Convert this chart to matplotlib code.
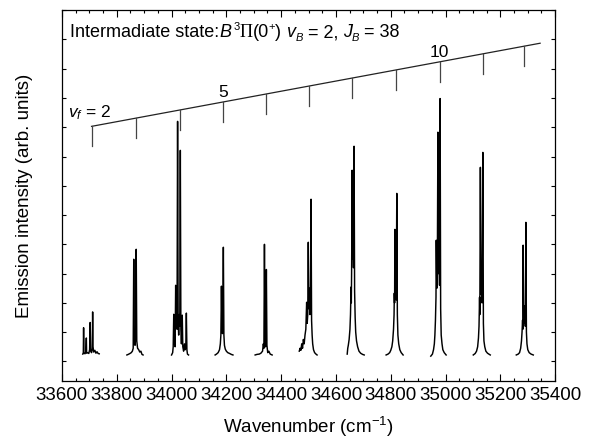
import numpy as np
import matplotlib
matplotlib.use('Agg')
import matplotlib.pyplot as plt
from matplotlib.ticker import MultipleLocator

plt.rcParams['font.family'] = 'Liberation Sans'
plt.rcParams['mathtext.fontset'] = 'custom'
plt.rcParams['mathtext.rm'] = 'Liberation Sans'
plt.rcParams['mathtext.it'] = 'Liberation Sans:italic'

# emission bands, one trace per final vibrational level
band_wn = [
    [33676, 33678, 33679, 33680, 33684, 33687, 33689, 33690, 33694, 33698, 33701, 33703,
     33705, 33708, 33711, 33712, 33713, 33716, 33720, 33724, 33728, 33732, 33736],
    [33837, 33842, 33848, 33853, 33857, 33860, 33862, 33864, 33867, 33869, 33871, 33873,
     33876, 33880, 33884, 33888, 33892, 33896],
    [34000, 34004, 34006, 34008, 34010, 34012, 34013, 34015, 34017, 34019, 34020, 34022,
     34024, 34026, 34028, 34030, 34032, 34034, 34036, 34039, 34041, 34044, 34047, 34050,
     34052, 34054, 34056, 34058, 34062],
    [34159, 34164, 34170, 34175, 34178, 34180, 34182, 34184, 34186, 34187, 34189, 34191,
     34193, 34196, 34200, 34205, 34212, 34218, 34224],
    [34305, 34312, 34320, 34326, 34332, 34335, 34337, 34339, 34341, 34343, 34344, 34346,
     34348, 34351, 34355, 34360, 34367],
    [34466, 34469, 34472, 34475, 34478, 34481, 34484, 34487, 34490, 34493, 34495, 34497,
     34499, 34501, 34503, 34505, 34507, 34509, 34511, 34513, 34515, 34518, 34522, 34527, 34531],
    [34641, 34643, 34645, 34648, 34651, 34653, 34655, 34656, 34657, 34658, 34659, 34661,
     34663, 34664, 34666, 34668, 34670, 34672, 34675, 34679, 34684, 34690, 34697, 34703],
    [34783, 34790, 34796, 34800, 34804, 34807, 34810, 34812, 34813, 34814, 34815, 34817,
     34819, 34820, 34822, 34824, 34826, 34829, 34833, 34838, 34845],
    [34946, 34952, 34956, 34959, 34961, 34963, 34965, 34966, 34968, 34970, 34972, 34974,
     34976, 34978, 34980, 34982, 34984, 34987, 34990, 34995, 35002],
    [35101, 35108, 35113, 35117, 35120, 35122, 35124, 35125, 35127, 35129, 35131, 35133,
     35136, 35138, 35140, 35143, 35147, 35153, 35163],
    [35258, 35265, 35270, 35274, 35277, 35279, 35281, 35282, 35283, 35285, 35287, 35289,
     35291, 35293, 35295, 35297, 35300, 35305, 35312, 35320],
]
band_int = [
    [0.25, 0.30, 1.15, 0.30, 0.26, 0.32, 0.80, 0.28, 0.30, 0.27, 0.40, 1.33,
     0.35, 0.30, 0.45, 1.69, 0.50, 0.32, 0.38, 0.28, 0.33, 0.27, 0.26],
    [0.22, 0.24, 0.27, 0.30, 0.35, 0.45, 3.49, 0.60, 0.55, 0.90, 3.83, 0.70,
     0.45, 0.40, 0.32, 0.35, 0.24, 0.22],
    [0.22, 0.30, 0.50, 1.61, 0.60, 0.90, 0.50, 2.60, 1.20, 1.50, 1.10, 8.20,
     1.40, 0.90, 1.60, 1.20, 7.21, 1.10, 0.60, 1.58, 0.50, 0.35, 0.60, 0.40,
     0.50, 1.65, 0.40, 0.25, 0.22],
    [0.22, 0.25, 0.30, 0.40, 0.60, 0.90, 2.57, 1.10, 0.95, 1.30, 3.90, 0.90,
     0.55, 0.42, 0.35, 0.30, 0.27, 0.24, 0.22],
    [0.22, 0.24, 0.25, 0.28, 0.35, 0.60, 0.45, 4.00, 0.70, 0.50, 0.90, 3.14,
     0.55, 0.30, 0.35, 0.25, 0.22],
    [0.35, 0.45, 0.38, 0.60, 0.45, 0.75, 0.60, 0.90, 1.10, 2.02, 1.30, 1.60,
     4.07, 1.80, 2.50, 1.60, 2.20, 5.54, 1.40, 0.90, 0.60, 0.40, 0.30, 0.25, 0.22],
    [0.25, 0.45, 0.55, 0.75, 1.10, 1.60, 2.54, 2.00, 3.00, 4.45, 6.53, 3.50,
     4.20, 3.20, 7.35, 2.40, 1.50, 1.00, 0.70, 0.50, 0.35, 0.28, 0.24, 0.22],
    [0.22, 0.25, 0.30, 0.38, 0.50, 0.70, 1.10, 1.60, 2.33, 2.00, 4.51, 2.20,
     2.80, 2.10, 5.74, 1.60, 0.90, 0.60, 0.40, 0.30, 0.22],
    [0.18, 0.25, 0.40, 0.60, 0.90, 1.40, 2.20, 4.14, 2.50, 3.40, 7.83, 3.00,
     4.00, 2.60, 8.98, 1.80, 0.90, 0.60, 0.40, 0.30, 0.22],
    [0.22, 0.27, 0.35, 0.50, 0.80, 1.20, 2.19, 1.60, 6.63, 2.30, 3.00, 2.00,
     7.14, 1.30, 0.70, 0.50, 0.35, 0.28, 0.22],
    [0.22, 0.25, 0.30, 0.45, 0.70, 1.00, 1.41, 1.10, 3.97, 1.30, 1.50, 1.90,
     1.20, 4.75, 1.00, 0.60, 0.40, 0.30, 0.25, 0.22],
]

# assignment comb for v_f = 2 ... 12
comb_v = list(range(2, 13))
comb_wn = [33708, 33870, 34031, 34189, 34345, 34502, 34660, 34818, 34978, 35136, 35288]
comb_end_wn = 35345
comb_top = (8.03, 10.87)  # height of the comb line at its two ends
tick_len = 0.68

# title pieces: text, style, size, vertical shift (pt), family
title_parts = [
    ('Intermadiate state:', 'normal', 13, 0, 'Liberation Sans'),
    ('B', 'italic', 13, 0, 'Liberation Sans'),
    (' ', 'normal', 6, 0, 'Liberation Sans'),
    ('3', 'normal', 8, 5.5, 'Liberation Sans'),
    ('\u03a0', 'normal', 13, 0, 'Liberation Serif'),
    ('(0', 'normal', 13, 0, 'Liberation Sans'),
    ('+', 'normal', 8, 5.5, 'Liberation Sans'),
    (') ', 'normal', 13, 0, 'Liberation Sans'),
    ('v', 'italic', 13, 0, 'Liberation Sans'),
    ('B', 'italic', 8, -3, 'Liberation Sans'),
    (' = 2, ', 'normal', 13, 0, 'Liberation Sans'),
    ('J', 'italic', 13, 0, 'Liberation Sans'),
    ('B', 'italic', 8, -3, 'Liberation Sans'),
    (' = 38', 'normal', 13, 0, 'Liberation Sans'),
]

fig, ax = plt.subplots(figsize=(5.9, 4.41), dpi=100)
fig.subplots_adjust(left=0.105, right=0.941, top=0.977, bottom=0.136)

for wn, inten in zip(band_wn, band_int):
    ax.plot(wn, inten, color='black', lw=1.05)

# comb line with ticks at each band
slope = (comb_top[1] - comb_top[0]) / (comb_end_wn - comb_wn[0])
ax.plot([comb_wn[0], comb_end_wn], comb_top, color='#222222', lw=0.9)
for v, w in zip(comb_v, comb_wn):
    top = comb_top[0] + slope * (w - comb_wn[0])
    ax.plot([w, w], [top, top - tick_len], color='#444444', lw=0.9)
    if v == 5 or v == 10:
        ax.text(w, top + 0.08, str(v), ha='center', va='bottom', fontsize=12.5)
ax.text(33699, 8.35, r'$v_f$ = 2', ha='center', va='baseline', fontsize=12.5)

# chain the title pieces along one baseline
base_y = 0.927
t = None
for s, style, size, dy, fam in title_parts:
    if t is None:
        t = ax.text(0.016, base_y, s, transform=ax.transAxes, ha='left', va='baseline',
                    fontsize=size, style=style, family=fam)
    else:
        t = ax.annotate(s, xy=(1, base_y), xycoords=(t, ax.transAxes),
                        xytext=(0, dy), textcoords='offset points',
                        ha='left', va='baseline', fontsize=size, style=style, family=fam)
        # keep following pieces on the main baseline
        if dy != 0:
            t = ax.annotate('', xy=(1, base_y), xycoords=(t, ax.transAxes))

ax.set_xlim(33600, 35400)
ax.set_ylim(-0.67, 12)
ax.xaxis.set_major_locator(MultipleLocator(200))
ax.xaxis.set_minor_locator(MultipleLocator(50))
ax.yaxis.set_major_locator(MultipleLocator(1))
ax.set_yticklabels([])
ax.tick_params(which='both', direction='in', top=True, right=True, width=0.8)
ax.tick_params(which='major', length=5, labelsize=13.5, pad=4)
ax.tick_params(which='minor', length=2.5)
ax.tick_params(axis='y', which='major', length=3)
for s in ax.spines.values():
    s.set_linewidth(0.9)

ax.set_xlabel('Wavenumber (cm$^{-1}$)', fontsize=13.5, labelpad=8)
ax.set_ylabel('Emission intensity (arb. units)', fontsize=13.5, labelpad=17)

fig.savefig('out.png', dpi=100)
